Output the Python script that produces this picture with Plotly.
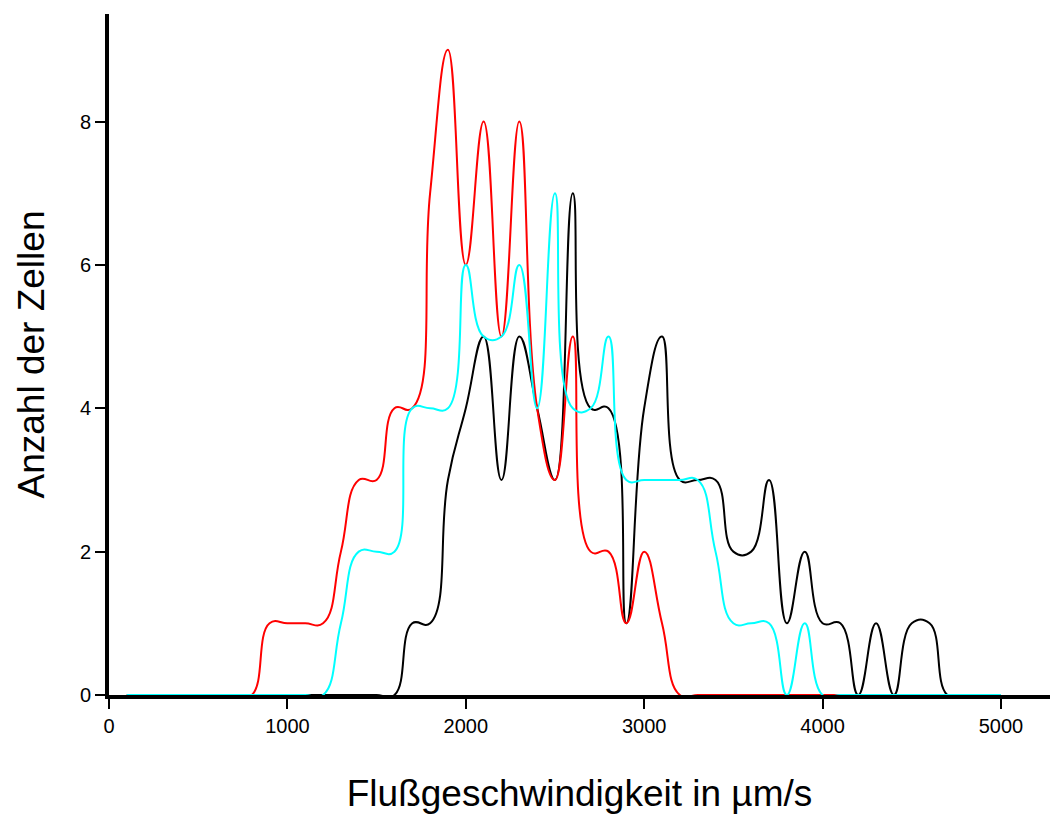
import plotly.graph_objects as go

# Flow speed bins (µm/s)
speed = [100, 200, 300, 400, 500, 600, 700, 800, 900, 1000,
         1100, 1200, 1300, 1400, 1500, 1600, 1700, 1800, 1900, 2000,
         2100, 2200, 2300, 2400, 2500, 2600, 2700, 2800, 2900, 3000,
         3100, 3200, 3300, 3400, 3500, 3600, 3700, 3800, 3900, 4000,
         4100, 4200, 4300, 4400, 4500, 4600, 4700, 4800, 4900, 5000]

# Number of cells per bin
black_counts = [0, 0, 0, 0, 0, 0, 0, 0, 0, 0,
                0, 0, 0, 0, 0, 0, 1, 1, 3, 4,
                5, 3, 5, 4, 3, 7, 4, 4, 1, 4,
                5, 3, 3, 3, 2, 2, 3, 1, 2, 1,
                1, 0, 1, 0, 1, 1, 0, 0, 0, 0]

red_counts = [0, 0, 0, 0, 0, 0, 0, 0, 1, 1,
              1, 1, 2, 3, 3, 4, 4, 7, 9, 6,
              8, 5, 8, 4, 3, 5, 2, 2, 1, 2,
              1, 0, 0, 0, 0, 0, 0, 0, 0, 0,
              0, 0, 0, 0, 0, 0, 0, 0, 0, 0]

cyan_counts = [0, 0, 0, 0, 0, 0, 0, 0, 0, 0,
               0, 0, 1, 2, 2, 2, 4, 4, 4, 6,
               5, 5, 6, 4, 7, 4, 4, 5, 3, 3,
               3, 3, 3, 2, 1, 1, 1, 0, 1, 0,
               0, 0, 0, 0, 0, 0, 0, 0, 0, 0]

x_ticks = [0, 1000, 2000, 3000, 4000, 5000]
y_ticks = [0, 2, 4, 6, 8]

x_title = "Flußgeschwindigkeit in µm/s"
y_title = "Anzahl der Zellen"

FONT = "Liberation Sans, Arial, sans-serif"

fig = go.Figure()
for counts, color in [(black_counts, "#000000"), (red_counts, "#FF0000"), (cyan_counts, "#00FFFF")]:
    fig.add_trace(go.Scatter(
        x=speed, y=counts, mode="lines",
        line=dict(color=color, width=2, shape="spline", smoothing=1.3),
        showlegend=False, hoverinfo="skip",
    ))

axis_common = dict(
    showline=True, linecolor="black", linewidth=4,
    ticks="outside", ticklen=10, tickwidth=1.5, tickcolor="black",
    showgrid=False, zeroline=False, layer="below traces",
    tickfont=dict(family=FONT, size=20, color="black"),
)

fig.update_layout(
    width=1050, height=814,
    margin=dict(l=109, r=0, t=14, b=119, pad=0),
    paper_bgcolor="white", plot_bgcolor="white",
    font=dict(family=FONT, color="black"),
    xaxis=dict(range=[0, 5275], tickvals=x_ticks,
               title=dict(text=x_title, font=dict(family=FONT, size=37), standoff=45),
               **axis_common),
    yaxis=dict(range=[0, 9.5], tickvals=y_ticks,
               title=dict(text=y_title, font=dict(family=FONT, size=37), standoff=25),
               **axis_common),
)

fig.write_html("out.html")
